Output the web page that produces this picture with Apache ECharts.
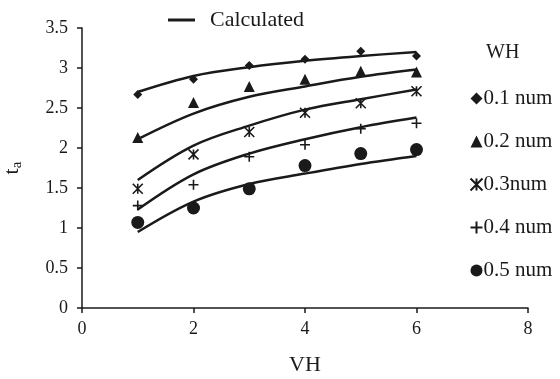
<!DOCTYPE html>
<html>
<head>
<meta charset="utf-8">
<script src="https://cdn.jsdelivr.net/npm/echarts@6/dist/echarts.min.js"></script>
<style>
  html, body { margin: 0; padding: 0; background: #fff; }
  #main { width: 560px; height: 379px; }
</style>
</head>
<body>
<div id="main"></div>
<script>
var vh = [1, 2, 3, 4, 5, 6];
var xTicks = [0, 2, 4, 6, 8];
var yTicks = [0, 0.5, 1, 1.5, 2, 2.5, 3, 3.5];

var names = ['0.1 num', '0.2 num', '0.3num', '0.4 num', '0.5 num'];
// measured
var m01 = [2.67, 2.86, 3.03, 3.11, 3.21, 3.15];
var m02 = [2.13, 2.57, 2.77, 2.86, 2.96, 2.95];
var m03 = [1.49, 1.92, 2.20, 2.44, 2.56, 2.71];
var m04 = [1.28, 1.54, 1.89, 2.04, 2.24, 2.31];
var m05 = [1.07, 1.25, 1.49, 1.78, 1.93, 1.98];
// calculated
var c01 = [2.70, 2.90, 3.01, 3.09, 3.15, 3.20];
var c02 = [2.11, 2.43, 2.64, 2.77, 2.89, 2.98];
var c03 = [1.60, 2.03, 2.28, 2.48, 2.61, 2.73];
var c04 = [1.23, 1.67, 1.93, 2.11, 2.26, 2.38];
var c05 = [0.95, 1.33, 1.55, 1.68, 1.80, 1.90];

var measured = [m01, m02, m03, m04, m05];
var calculated = [c01, c02, c03, c04, c05];

var FONT = 'Liberation Serif';
var INK = '#1a1a1a';

var symbols = [
  'diamond',
  'triangle',
  'path://M0,0 L10,10 M10,0 L0,10 M5,0 L5,10',
  'path://M5,0 L5,10 M0,5 L10,5',
  'circle'
];
var sizes = [9, 11, 10, 10, 13];

function pairs(arr) {
  return vh.map(function (x, i) { return [x, arr[i]]; });
}

var series = [];
calculated.forEach(function (arr) {
  series.push({
    name: 'Calculated',
    type: 'line',
    data: pairs(arr),
    smooth: 0.35,
    symbol: 'none',
    lineStyle: { color: INK, width: 2.5 },
    itemStyle: { color: INK },
    z: 2
  });
});
measured.forEach(function (arr, i) {
  var stroked = i === 2 || i === 3;
  series.push({
    name: names[i],
    type: 'scatter',
    data: pairs(arr),
    symbol: symbols[i],
    symbolSize: sizes[i],
    itemStyle: stroked
      ? { color: 'none', borderColor: INK, borderWidth: 1.6, opacity: 1 }
      : { color: INK, opacity: 1 },
    z: 3
  });
});

var axisLine = { show: true, onZero: false, lineStyle: { color: INK, width: 1.5 } };
var axisTick = { show: true, length: 5, lineStyle: { color: INK, width: 1.5 } };

var chart = echarts.init(document.getElementById('main'));
chart.setOption({
  animation: false,
  backgroundColor: '#fff',
  grid: { left: 82, right: 32, top: 28, bottom: 71, containLabel: false, outerBoundsMode: 'none' },
  xAxis: {
    type: 'value',
    min: 0, max: 8, interval: 2,
    name: 'VH',
    nameLocation: 'middle',
    nameGap: 46,
    nameTextStyle: { fontFamily: FONT, fontSize: 22, color: INK },
    axisLine: axisLine,
    axisTick: axisTick,
    axisLabel: { fontFamily: FONT, fontSize: 18, color: INK, margin: 12,
      formatter: function (v) { return xTicks.indexOf(v) >= 0 ? String(v) : ''; } },
    splitLine: { show: false }
  },
  yAxis: {
    type: 'value',
    min: 0, max: 3.5, interval: 0.5,
    name: 't{s|a}',
    nameLocation: 'middle',
    nameGap: 57,
    nameRotate: 90,
    nameTextStyle: {
      fontFamily: FONT, fontSize: 22, color: INK,
      rich: { s: { fontFamily: FONT, fontSize: 15, color: INK, padding: [10, 0, 0, 0] } }
    },
    axisLine: axisLine,
    axisTick: axisTick,
    axisLabel: { fontFamily: FONT, fontSize: 18, color: INK, margin: 14,
      formatter: function (v) { return yTicks.indexOf(v) >= 0 ? String(v) : ''; } },
    splitLine: { show: false }
  },
  legend: [
    {
      data: [{ name: 'Calculated', icon: 'rect' }],
      left: 168, top: 9, padding: 0,
      itemWidth: 27, itemHeight: 3,
      itemStyle: { color: INK },
      textStyle: { fontFamily: FONT, fontSize: 22, color: INK, padding: [0, 0, 0, 10] }
    },
    {
      data: names,
      orient: 'vertical',
      left: 468, top: 88, padding: 0,
      itemWidth: 12, itemHeight: 12, itemGap: 22,
      textStyle: { fontFamily: FONT, fontSize: 21, color: INK, padding: [0, 0, 0, -4] }
    }
  ],
  graphic: [
    { type: 'text', left: 486, top: 43,
      style: { text: 'WH', fontFamily: FONT, fontSize: 20, fill: INK } }
  ],
  series: series
});
</script>
</body>
</html>
